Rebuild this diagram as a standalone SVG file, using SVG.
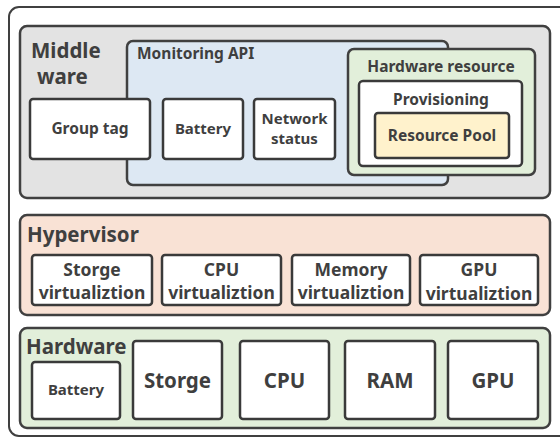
<svg xmlns="http://www.w3.org/2000/svg" width="560" height="439" viewBox="0 0 560 439">
<style>
.frame{fill:#fff;stroke:#404040;stroke-width:2}
.layer{stroke:#404040;stroke-width:2.5}
.box{fill:#fff;stroke:#3a3a3a;stroke-width:2.5}
text{font-family:"Noto Sans","Open Sans",sans-serif;font-weight:bold;fill:#3f3f3f}
.c{text-anchor:middle}
.big{font-size:20.5px}
.mid{font-size:15.5px}
.virt{font-size:17.5px}
.sm{font-size:15px}
</style>
<rect x="9" y="7" width="560" height="429" rx="10" class="frame"/>
<g id="middleware">
<rect x="20" y="26" width="530" height="172" rx="7" class="layer" fill="#e3e3e3"/>
<text x="31" y="58" class="big">Middle</text>
<text x="37" y="84" class="big">ware</text>
</g>
<g id="monitoring-api">
<rect x="127" y="41" width="321" height="144" rx="6" class="layer" fill="#dde8f3"/>
<text x="137" y="59" class="mid">Monitoring API</text>
</g>
<g id="group-tag">
<rect x="30" y="99" width="120" height="60" rx="3" class="box"/>
<text x="90" y="134" class="c mid">Group tag</text>
</g>
<g id="battery-api">
<rect x="163" y="99" width="80" height="60" rx="3" class="box"/>
<text x="203" y="134" class="c sm">Battery</text>
</g>
<g id="network-status">
<rect x="254" y="99" width="81" height="60" rx="3" class="box"/>
<text x="294.5" y="124" class="c sm">Network</text>
<text x="294.5" y="144" class="c sm">status</text>
</g>
<g id="hardware-resource">
<rect x="348" y="49" width="187" height="126" rx="6" class="layer" fill="#e2efda"/>
<text x="441" y="72" class="c mid">Hardware resource</text>
</g>
<g id="provisioning">
<rect x="359" y="81" width="163" height="85" rx="4" class="box"/>
<text x="441" y="105" class="c mid">Provisioning</text>
</g>
<g id="resource-pool">
<rect x="375" y="113" width="134" height="45" rx="3" class="box" style="fill:#fff2cc"/>
<text x="442" y="141" class="c mid">Resource Pool</text>
</g>
<g id="hypervisor">
<rect x="20" y="215" width="530" height="100" rx="7" class="layer" fill="#f9e2d5"/>
<text x="27" y="242" class="big">Hypervisor</text>
</g>
<g id="storage-virt">
<rect x="32" y="255" width="120" height="50" rx="3" class="box"/>
<text x="92" y="276" class="c virt">Storge</text>
<text x="92" y="299" class="c virt">virtualiztion</text>
</g>
<g id="cpu-virt">
<rect x="162" y="255" width="119" height="50" rx="3" class="box"/>
<text x="221.5" y="276" class="c virt">CPU</text>
<text x="221.5" y="299" class="c virt">virtualiztion</text>
</g>
<g id="memory-virt">
<rect x="292" y="255" width="118" height="50" rx="3" class="box"/>
<text x="351" y="276" class="c virt">Memory</text>
<text x="351" y="299" class="c virt">virtualiztion</text>
</g>
<g id="gpu-virt">
<rect x="420" y="255" width="118" height="50" rx="3" class="box"/>
<text x="479" y="276" class="c virt">GPU</text>
<text x="479" y="300" class="c virt">virtualiztion</text>
</g>
<g id="hardware">
<rect x="20" y="328" width="530" height="100" rx="7" class="layer" fill="#e2efda"/>
<text x="26" y="354" class="big">Hardware</text>
</g>
<g id="battery-hw">
<rect x="32" y="362" width="88" height="57" rx="3" class="box"/>
<text x="76" y="395" class="c sm">Battery</text>
</g>
<g id="storage-hw">
<rect x="133" y="341" width="89" height="78" rx="3" class="box"/>
<text x="177.5" y="388" class="c big">Storge</text>
</g>
<g id="cpu-hw">
<rect x="240" y="341" width="89" height="78" rx="3" class="box"/>
<text x="284.5" y="388" class="c big">CPU</text>
</g>
<g id="ram-hw">
<rect x="345" y="341" width="90" height="78" rx="3" class="box"/>
<text x="390" y="388" class="c big">RAM</text>
</g>
<g id="gpu-hw">
<rect x="448" y="341" width="90" height="78" rx="3" class="box"/>
<text x="493" y="388" class="c big">GPU</text>
</g>
<g id="connectors"></g>
</svg>
